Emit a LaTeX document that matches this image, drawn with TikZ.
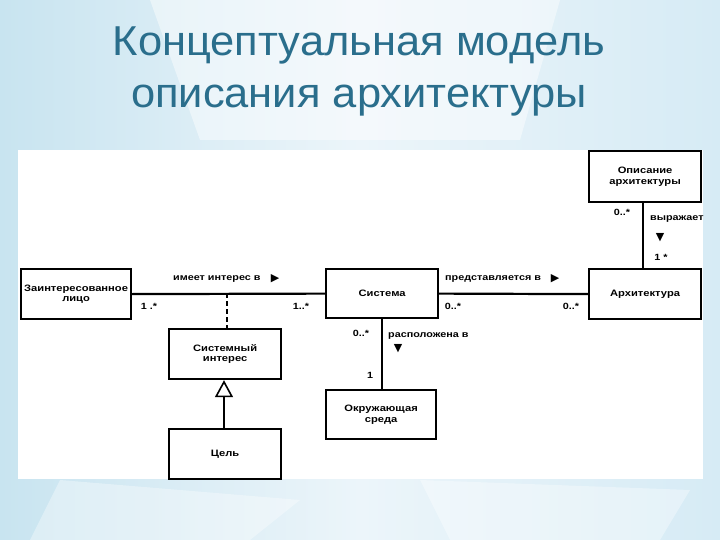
\documentclass[tikz,border=0pt]{standalone}
\usepackage{fontspec}
\setmainfont{Liberation Sans}[FakeStretch=1.2]
\newfontfamily\titlefont{Liberation Sans}[FakeStretch=1.04]
\newfontfamily\symfont{DejaVu Sans}
\usetikzlibrary{arrows.meta}
\definecolor{titleblue}{RGB}{42,110,140}
\definecolor{bgleft}{RGB}{200,228,240}
\definecolor{bgmid}{RGB}{236,245,250}
\definecolor{bgright}{RGB}{214,235,245}
\tikzset{
  cls/.style={draw=black, line width=2.2pt, fill=white, inner sep=0pt, anchor=north west,
    font=\bfseries\fontsize{9.3}{10.5}\selectfont, align=center},
  assoc/.style={line width=2.2pt},
  lbl/.style={font=\bfseries\fontsize{9}{10}\selectfont, inner sep=0pt},
  tri/.style={font=\symfont\fontsize{11}{11}\selectfont, inner sep=0pt},
  ttl/.style={text=titleblue, font=\titlefont\fontsize{41.8}{50}\selectfont, anchor=base, inner sep=0pt},
}
\begin{document}
\begin{tikzpicture}[x=1pt,y=-1pt]
\useasboundingbox (0,0) rectangle (720,540);
% background
\shade[left color=bgleft, right color=bgright, middle color=bgmid] (0,0) rectangle (720,540);
\fill[white, opacity=0.45] (150,0) -- (560,0) -- (520,140) -- (200,140) -- cycle;
\fill[white, opacity=0.35] (60,480) -- (300,500) -- (250,540) -- (30,540) -- cycle;
\fill[white, opacity=0.35] (420,480) -- (690,490) -- (660,540) -- (450,540) -- cycle;
\fill[white] (18,150) rectangle (703,479);
% title
\node[ttl] (title1) at (359,56) {Концептуальная модель};
\node[ttl] (title2) at (359,108) {описания архитектуры};
% classes
\node[cls, minimum width=110pt, minimum height=50pt] (stake) at (20,268) {Заинтересованное\\лицо};
\node[cls, minimum width=112pt, minimum height=49pt] (sys) at (325,268) {Система};
\node[cls, minimum width=112pt, minimum height=50pt] (arch) at (588,268) {Архитектура};
\node[cls, minimum width=112pt, minimum height=51pt] (desc) at (588,150) {Описание\\архитектуры};
\node[cls, minimum width=112pt, minimum height=50pt] (interest) at (168,328) {Системный\\интерес};
\node[cls, minimum width=112pt, minimum height=50pt] (goal) at (168,428) {Цель};
\node[cls, minimum width=110pt, minimum height=49pt] (env) at (325,389) {Окружающая\\среда};
% connectors
\draw[assoc] (stake.east) -- (sys.west);
\draw[assoc] (sys.east) -- (arch.west);
\coordinate (mid) at (227,293);
\draw[assoc, dash pattern=on 5pt off 3pt] (mid) -- (mid |- interest.north);
\draw[assoc] (desc.south -| 643,0) -- (arch.north -| 643,0);
\draw[assoc] (sys.south -| 382,0) -- (env.north -| 382,0);
\draw[line width=2pt, -{Triangle[open, width=18pt, length=17pt, line width=1.6pt]}] (goal.north -| 224,0) -- (interest.south -| 224,0);
% labels
\node[lbl, anchor=west] (l1) at (173,279) {имеет интерес в};
\node[tri] (t1) at (275,279) {▶};
\node[lbl] (m1) at (149,306) {1 .*};
\node[lbl] (m2) at (301,306) {1..*};
\node[lbl, anchor=west] (l2) at (445,279) {представляется в};
\node[tri] (t2) at (555,279) {▶};
\node[lbl] (m3) at (453,306) {0..*};
\node[lbl] (m4) at (571,306) {0..*};
\node[lbl] (m5) at (622,212) {0..*};
\begin{scope}
\clip (600,150) rectangle (703,300);
\node[lbl, anchor=west] (l3) at (650,219) {выражает};
\end{scope}
\node[tri] (t3) at (660,238) {▼};
\node[lbl] (m6) at (661,257) {1 *};
\node[lbl] (m7) at (361,333) {0..*};
\node[lbl, anchor=west] (l4) at (388,336) {расположена в};
\node[tri] (t4) at (398,349) {▼};
\node[lbl] (m8) at (370,375) {1};
\end{tikzpicture}
\end{document}
